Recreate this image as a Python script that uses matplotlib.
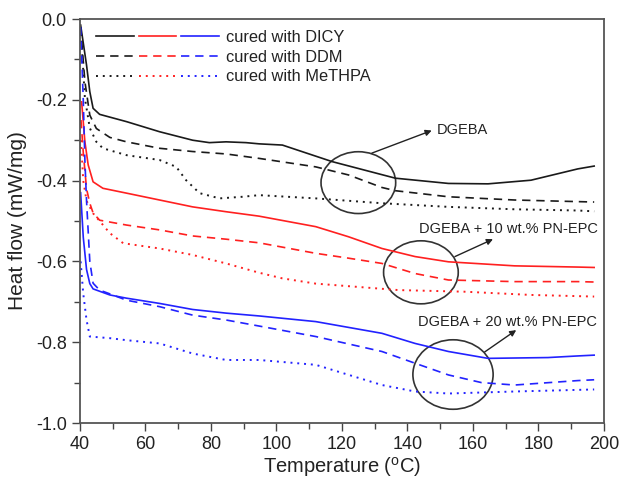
import matplotlib
matplotlib.use("Agg")
import matplotlib.pyplot as plt
from matplotlib.patches import Ellipse
from matplotlib.legend_handler import HandlerTuple
from matplotlib.ticker import MultipleLocator

plt.rcParams['font.family'] = ['Liberation Sans', 'DejaVu Sans']
plt.rcParams['axes.unicode_minus'] = False

# DGEBA (black)
t_dicy_0 = [40.2, 42, 43, 44, 46, 54.2, 64.3, 74.4, 79.5, 84.6, 90.7, 94.7, 101.8, 117, 136.3, 152.5, 164.6, 177.7, 192, 197]
v_dicy_0 = [-0.015, -0.114, -0.18, -0.221, -0.236, -0.254, -0.279, -0.300, -0.306, -0.304, -0.306, -0.309, -0.312, -0.353, -0.394, -0.407, -0.408, -0.399, -0.371, -0.364]
t_ddm_0 = [40.2, 41.5, 43, 45, 49.1, 54.2, 64.3, 74.4, 84.6, 94.7, 112, 122, 132.2, 136.3, 152.5, 172.7, 192, 197]
v_ddm_0 = [-0.02, -0.155, -0.238, -0.271, -0.293, -0.304, -0.320, -0.328, -0.334, -0.345, -0.366, -0.386, -0.417, -0.425, -0.440, -0.448, -0.452, -0.453]
t_met_0 = [40.2, 41.5, 43, 45, 47, 54.2, 64.3, 69.4, 72.4, 76.5, 82.6, 89.6, 94.7, 112, 132.2, 152.5, 172.7, 192, 197]
v_met_0 = [-0.02, -0.196, -0.27, -0.304, -0.320, -0.337, -0.349, -0.366, -0.399, -0.431, -0.444, -0.440, -0.436, -0.444, -0.456, -0.465, -0.471, -0.474, -0.476]

# DGEBA + 10 wt.% PN-EPC (red)
t_dicy_10 = [40.5, 41.5, 42.5, 44, 47, 54.2, 64.3, 74.4, 84.6, 94.7, 112, 122, 132.2, 142.3, 152.5, 172.7, 192, 197]
v_dicy_10 = [-0.205, -0.304, -0.361, -0.403, -0.419, -0.431, -0.448, -0.465, -0.477, -0.488, -0.514, -0.539, -0.568, -0.588, -0.601, -0.611, -0.614, -0.615]
t_ddm_10 = [40.3, 41, 42, 43, 44, 46, 54.2, 64.3, 74.4, 84.6, 94.7, 112, 122, 132.2, 142.3, 152.5, 172.7, 192, 197]
v_ddm_10 = [-0.25, -0.33, -0.42, -0.456, -0.48, -0.498, -0.51, -0.522, -0.537, -0.545, -0.554, -0.580, -0.592, -0.605, -0.630, -0.646, -0.650, -0.650, -0.651]
t_met_10 = [40.3, 41, 42, 44, 46, 49.1, 53.2, 64.3, 74.4, 84.6, 94.7, 101.8, 112, 137.3, 157.5, 177.7, 197]
v_met_10 = [-0.30, -0.40, -0.45, -0.481, -0.50, -0.530, -0.555, -0.568, -0.584, -0.605, -0.628, -0.642, -0.655, -0.671, -0.675, -0.683, -0.687]

# DGEBA + 20 wt.% PN-EPC (blue)
t_dicy_20 = [40.2, 41, 42, 43, 44, 49.1, 54.2, 64.3, 74.4, 84.6, 94.7, 112, 132.2, 142.3, 152.5, 164.6, 182.9, 192, 197]
v_dicy_20 = [-0.43, -0.54, -0.62, -0.655, -0.668, -0.683, -0.691, -0.704, -0.719, -0.728, -0.735, -0.749, -0.778, -0.803, -0.823, -0.840, -0.838, -0.834, -0.832]
t_ddm_20 = [40.2, 41, 41.5, 42, 43, 44, 46, 49, 54.2, 64.3, 74.4, 84.6, 94.7, 112, 132.2, 142.3, 152.5, 162.6, 172.7, 192, 197]
v_ddm_20 = [-0.02, -0.20, -0.35, -0.45, -0.60, -0.654, -0.671, -0.68, -0.696, -0.712, -0.733, -0.745, -0.760, -0.786, -0.823, -0.852, -0.881, -0.900, -0.906, -0.895, -0.893]
t_met_20 = [40.2, 41, 42, 43, 49.1, 54.2, 64.3, 74.4, 84.6, 94.7, 112, 132.2, 142.3, 152.5, 172.7, 192, 197]
v_met_20 = [-0.60, -0.68, -0.745, -0.786, -0.790, -0.795, -0.803, -0.828, -0.844, -0.844, -0.856, -0.906, -0.922, -0.927, -0.922, -0.918, -0.917]

series_colors = ['#1a1a1a', '#ff2020', '#2222ff']
dash = (0, (5, 3.5))
dot = (0, (1, 2.5))

# ellipse centre, width, height (data units) and annotation labels
ell_x = [125.0, 144.1, 153.9]
ell_y = [-0.405, -0.627, -0.880]
ell_w = [22.8, 22.8, 24.5]
ell_h = [0.153, 0.156, 0.172]
arrow_from = [(129.1, -0.332), (154.5, -0.588), (163.6, -0.824)]
arrow_to = [(147.4, -0.276), (166.1, -0.545), (173.2, -0.770)]
labels = ['DGEBA', 'DGEBA + 10 wt.% PN-EPC', 'DGEBA + 20 wt.% PN-EPC']
label_pos = [(148.8, -0.275), (143.6, -0.520), (143.1, -0.749)]

fig = plt.figure(figsize=(6.21, 4.79), dpi=100)
ax = fig.add_axes([0.1288, 0.1169, 0.8438, 0.8434])

groups = [
    (t_dicy_0, v_dicy_0, t_ddm_0, v_ddm_0, t_met_0, v_met_0),
    (t_dicy_10, v_dicy_10, t_ddm_10, v_ddm_10, t_met_10, v_met_10),
    (t_dicy_20, v_dicy_20, t_ddm_20, v_ddm_20, t_met_20, v_met_20),
]
handles = {'solid': [], 'dash': [], 'dot': []}
for (ts, vs, td, vd, tm, vm), c in zip(groups, series_colors):
    h1, = ax.plot(ts, vs, color=c, lw=1.2, ls='-')
    h2, = ax.plot(td, vd, color=c, lw=1.2, ls=dash)
    h3, = ax.plot(tm, vm, color=c, lw=1.4, ls=dot)
    handles['solid'].append(h1)
    handles['dash'].append(h2)
    handles['dot'].append(h3)

for x, y, w, h in zip(ell_x, ell_y, ell_w, ell_h):
    ax.add_patch(Ellipse((x, y), w, h, fill=False, ec='#333333', lw=1.2))

for p0, p1, lab, lp in zip(arrow_from, arrow_to, labels, label_pos):
    ax.annotate('', xy=p1, xytext=p0,
                arrowprops=dict(arrowstyle='-|>', color='#222222', lw=1.0,
                                mutation_scale=9, shrinkA=0, shrinkB=0))
    ax.text(lp[0], lp[1], lab, fontsize=10.5, color='#222222', va='center', ha='left')

leg = ax.legend([tuple(handles['solid']), tuple(handles['dash']), tuple(handles['dot'])],
                ['cured with DICY', 'cured with DDM', 'cured with MeTHPA'],
                handler_map={tuple: HandlerTuple(ndivide=None, pad=0.3)},
                loc='upper left', bbox_to_anchor=(0.012, 0.998), frameon=False,
                fontsize=11.8, handlelength=7.5, handletextpad=0.45, labelspacing=0.3,
                borderaxespad=0.2)
for t in leg.get_texts():
    t.set_color('#222222')

ax.set_xlim(40, 200)
ax.set_ylim(-1.0, 0.0)
ax.xaxis.set_major_locator(MultipleLocator(20))
ax.xaxis.set_minor_locator(MultipleLocator(10))
ax.yaxis.set_major_locator(MultipleLocator(0.2))
ax.yaxis.set_minor_locator(MultipleLocator(0.1))
ax.yaxis.set_major_formatter(matplotlib.ticker.FormatStrFormatter('%.1f'))
ax.tick_params(which='both', direction='out', top=False, right=False,
               color='#444444', labelsize=13, labelcolor='#222222', width=1.0)
ax.tick_params(which='major', length=6)
ax.tick_params(which='minor', length=4)
for s in ax.spines.values():
    s.set_color('#555555')
    s.set_linewidth(1.3)

ax.set_xlabel('Temperature ($\\mathregular{^{o}}$C)', fontsize=14.5, color='#222222', labelpad=1)
ax.set_ylabel('Heat flow (mW/mg)', fontsize=15, color='#222222', labelpad=6)

fig.savefig('out.png', dpi=100)
